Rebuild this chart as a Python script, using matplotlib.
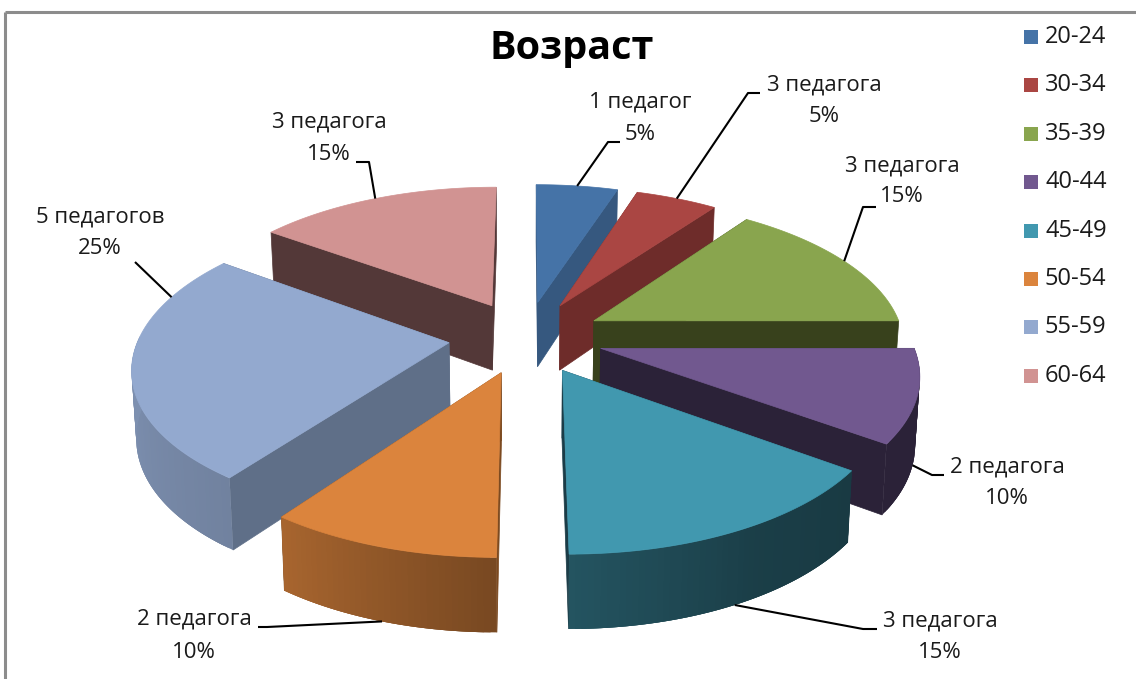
#!/usr/bin/python
import numpy as np
import matplotlib
matplotlib.use('Agg')
import matplotlib.pyplot as plt
from matplotlib.patches import Polygon, Rectangle

## chart data
ages = ["20-24", "30-34", "35-39", "40-44", "45-49", "50-54", "55-59", "60-64"]
shares = [5, 5, 15, 10, 15, 10, 25, 15]
teachers = ["1 педагог", "3 педагога", "3 педагога", "2 педагога",
            "3 педагога", "2 педагога", "5 педагогов", "3 педагога"]
title = "Возраст"

## colors: top of slice, flat cut face
top_colors = ["#4573a7", "#aa4643", "#89a54e", "#71588f", "#4198af", "#db843d", "#93a9cf", "#d19392"]
face_colors = ["#36587f", "#6e2c2a", "#38411c", "#2b2238", "#1b3c47", "#7c4a20", "#5f6f88", "#533838"]

## projection of the tilted pie, in pixels of the output
cx, cy = 526., 337.
rx, ry = 310., 145.
persp = .15
explode = .25
depth = 66.

## painting order, back to front
draw_order = [0, 7, 1, 6, 2, 3, 5, 4]

## label layout: centre x, first line y, second line y, then leader elbow and end
label_pos = [(640, 102, 134), (824, 85, 117), (902, 166, 197), (1007, 467, 499),
             (940, 621, 653), (194, 619, 652), (100, 217, 249), (329, 122, 154)]
leader_pts = [[(608, 142), (620, 142)], [(748, 93), (760, 93)], [(863, 207), (876, 207)],
              [(932, 475), (944, 475)], [(863, 629), (877, 629)], [(267, 627), (258, 627)],
              [(135, 262)], [(369, 162), (356, 162)]]
leader_shift = [0, 0, 0, 0, 0, 0, 28, 0]
leader_bottom = [False, False, False, True, True, True, False, False]

plt.rcParams['font.family'] = ['Open Sans', 'DejaVu Sans']
font_size = 16


def project(px, py, lower=False):
    w = 1 + persp * py
    x = rx * px / w
    y = cy - ry * py / w
    if lower:
        x = x * .988
        y = y + depth * (1 - .11 * py)
    return cx + x, y


def rim(ang, mid, r=1.):
    a, m = np.radians(ang), np.radians(mid)
    return r * np.sin(a) + explode * np.sin(m), r * np.cos(a) + explode * np.cos(m)


def darker(color, f):
    return tuple(c * f for c in matplotlib.colors.to_rgb(color))


def side_shade(ang):
    return np.interp(ang, [0, 126, 150, 180, 216, 261, 306, 360], [.45, .38, .41, .55, .77, .85, .85, .6])


fig = plt.figure(figsize=(11.36, 6.79), dpi=100)
ax = fig.add_axes([0, 0, 1, 1])
ax.set_xlim(0, 1136)
ax.set_ylim(679, 0)
ax.axis('off')

## grey chart frame
ax.plot([5, 5], [679, 12], color="#8c8c8c", lw=2.2, solid_capstyle='butt')
ax.plot([5, 1136], [12, 12], color="#8c8c8c", lw=2.2, solid_capstyle='butt')

stops = np.cumsum([0] + shares) * 3.6
mids = (stops[:-1] + stops[1:]) / 2.

for i in draw_order:
    a0, a1, mid = stops[i], stops[i+1], mids[i]
    tip = rim(0, mid, 0.)
    ## flat cut faces
    for a in (a0, a1):
        p = rim(a, mid)
        face = [project(*tip), project(*p), project(*p, lower=True), project(*tip, lower=True)]
        ax.add_patch(Polygon(face, closed=True, fc=face_colors[i], ec=face_colors[i], lw=.5))
    angs = np.linspace(a0, a1, int(a1 - a0) + 2)
    ## curved side, short strips to get the gradient, only where it faces us
    seen = angs[np.cos(np.radians(angs)) < .05]
    if i != 2 and len(seen) > 1:
        order = seen if seen[0] >= 180 else seen[::-1]
        for k in range(len(order) - 1):
            run = order[k:min(k + 4, len(order))]
            col = darker(top_colors[i], side_shade(run[0]))
            if i == 3:
                col = face_colors[i]
            strip = [project(*rim(a, mid)) for a in run] + [project(*rim(a, mid), lower=True) for a in run[::-1]]
            ax.add_patch(Polygon(strip, closed=True, fc=col, ec='none'))
    ## top
    outline = [project(*tip)] + [project(*rim(a, mid)) for a in angs]
    ax.add_patch(Polygon(outline, closed=True, fc=top_colors[i], ec=top_colors[i], lw=.5))

## data labels and leader lines
for i in range(len(shares)):
    x, y1, y2 = label_pos[i]
    ax.text(x, y1, teachers[i], ha='center', va='center', fontsize=font_size, color="#1a1a1a")
    ax.text(x, y2, "%d%%" % shares[i], ha='center', va='center', fontsize=font_size, color="#1a1a1a")
    start = project(*rim(mids[i] + leader_shift[i], mids[i]), lower=leader_bottom[i])
    pts = [start] + leader_pts[i]
    ax.plot([p[0] for p in pts], [p[1] for p in pts], color="black", lw=1.5, solid_capstyle='butt')

ax.text(572, 48, title, ha='center', va='center', fontsize=28.5, fontweight='bold', color="black")

## legend
for i in range(len(ages)):
    y = 37 + i * 48.4
    ax.add_patch(Rectangle((1024, y - 7), 14, 14, fc=top_colors[i], ec='none'))
    ax.text(1045, y, ages[i], ha='left', va='center', fontsize=17, color="#1a1a1a")

fig.savefig('out.png', dpi=100)
